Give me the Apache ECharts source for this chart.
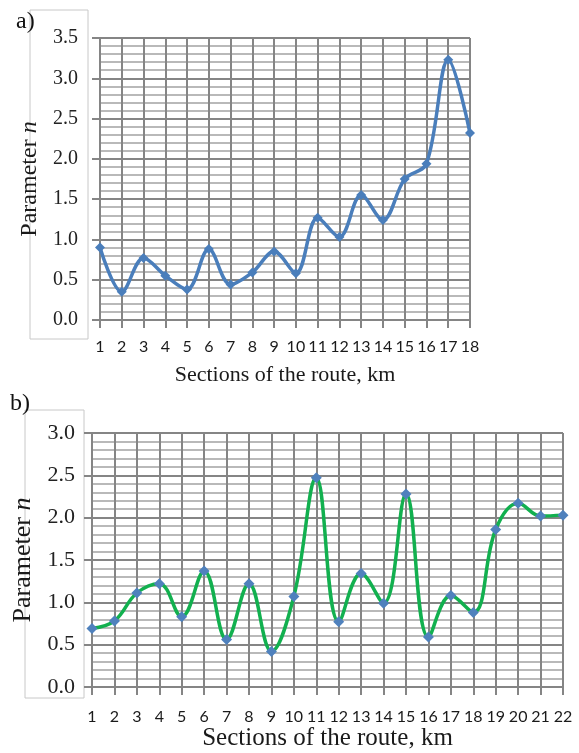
<!DOCTYPE html>
<html>
<head>
<meta charset="utf-8">
<script src="https://cdn.jsdelivr.net/npm/echarts@6/dist/echarts.min.js"></script>
<style>
html,body{margin:0;padding:0;background:#fff;}
#c{width:579px;height:753px;}
</style>
</head>
<body>
<div id="c"></div>
<script>
const categoriesA = ['1','2','3','4','5','6','7','8','9','10','11','12','13','14','15','16','17','18'];
const valuesA = [0.90,0.35,0.77,0.55,0.38,0.88,0.44,0.59,0.85,0.58,1.27,1.03,1.55,1.24,1.75,1.94,3.23,2.32];
const categoriesB = ['1','2','3','4','5','6','7','8','9','10','11','12','13','14','15','16','17','18','19','20','21','22'];
const valuesB = [0.69,0.78,1.11,1.22,0.83,1.37,0.56,1.22,0.42,1.07,2.47,0.77,1.34,0.99,2.28,0.59,1.08,0.88,1.86,2.17,2.02,2.03];
const yTicksA = {min:0, max:3.5, interval:0.5};
const yTicksB = {min:0, max:3.0, interval:0.5};

const chart = echarts.init(document.getElementById('c'), null, {renderer:'canvas'});
const serif = '"Liberation Serif","DejaVu Serif",serif';
const sans = 'Lato,"Open Sans",sans-serif';
const gridColor = '#858585';
const minorColor = '#a3a3a3';

function xAxis(idx, cats, gap, size, margin) {
  return {
    type:'category', gridIndex: idx, data: cats, boundaryGap:false,
    name:'Sections of the route, km', nameLocation:'middle', nameGap: gap,
    nameTextStyle:{fontFamily:serif, fontSize:size, color:'#1a1a1a'},
    axisLine:{show:true, lineStyle:{color:gridColor, width:2}},
    axisTick:{show:true, length:8, alignWithLabel:true, lineStyle:{color:gridColor, width:2}},
    axisLabel:{fontFamily:sans, fontSize:16, color:'#1a1a1a', margin:margin, interval:0},
    splitLine:{show:true, lineStyle:{color:gridColor, width:2}}
  };
}
function yAxis(idx, t, gap, size, labelSize, margin) {
  return {
    type:'value', gridIndex: idx, min:t.min, max:t.max, interval:t.interval,
    name:'{a|Parameter }{i|n}', nameLocation:'middle', nameGap: gap, nameRotate:90,
    nameTextStyle:{rich:{
      a:{fontFamily:serif, fontSize:size, color:'#1a1a1a'},
      i:{fontFamily:serif, fontSize:size, fontStyle:'italic', color:'#1a1a1a'}
    }},
    axisLine:{show:true, lineStyle:{color:gridColor, width:2}},
    axisTick:{show:true, length:8, lineStyle:{color:gridColor, width:2}},
    axisLabel:{fontFamily:serif, fontSize:labelSize, color:'#222', margin:margin,
      formatter:v=>v.toFixed(1)},
    splitLine:{show:true, lineStyle:{color:gridColor, width:2}},
    minorTick:{show:false, splitNumber:5},
    minorSplitLine:{show:true, lineStyle:{color:minorColor, width:1.5}}
  };
}

chart.setOption({
  animation:false,
  backgroundColor:'#fff',
  grid:[
    {left:100, width:370, top:38, height:282},
    {left:92, width:471, top:433, height:254}
  ],
  xAxis:[xAxis(0, categoriesA, 44, 22, 19), xAxis(1, categoriesB, 39, 25, 22)],
  yAxis:[yAxis(0, yTicksA, 50, 24, 20, 22), yAxis(1, yTicksB, 46, 26, 22, 17)],
  series:[
    {type:'line', xAxisIndex:0, yAxisIndex:0, data:valuesA, smooth:0.35,
     symbol:'diamond', symbolSize:10,
     lineStyle:{color:'#4a7ebb', width:3.5}, itemStyle:{color:'#4a7ebb'}},
    {type:'line', xAxisIndex:1, yAxisIndex:1, data:valuesB, smooth:0.4,
     symbol:'diamond', symbolSize:11,
     lineStyle:{color:'#12b04f', width:3.5}, itemStyle:{color:'#4f81bd'}}
  ],
  graphic:[
    {type:'rect', z:-1, shape:{x:30, y:10, width:58, height:329}, style:{fill:'none', stroke:'#c8c8c8', lineWidth:1}},
    {type:'rect', z:-1, shape:{x:25, y:410, width:59, height:288}, style:{fill:'none', stroke:'#c8c8c8', lineWidth:1}},
    {type:'text', left:16, top:10, style:{text:'a)', font:'24px "Liberation Serif", serif', fill:'#111'}},
    {type:'text', left:10, top:392, style:{text:'b)', font:'24px "Liberation Serif", serif', fill:'#111'}}
  ]
});
</script>
</body>
</html>
